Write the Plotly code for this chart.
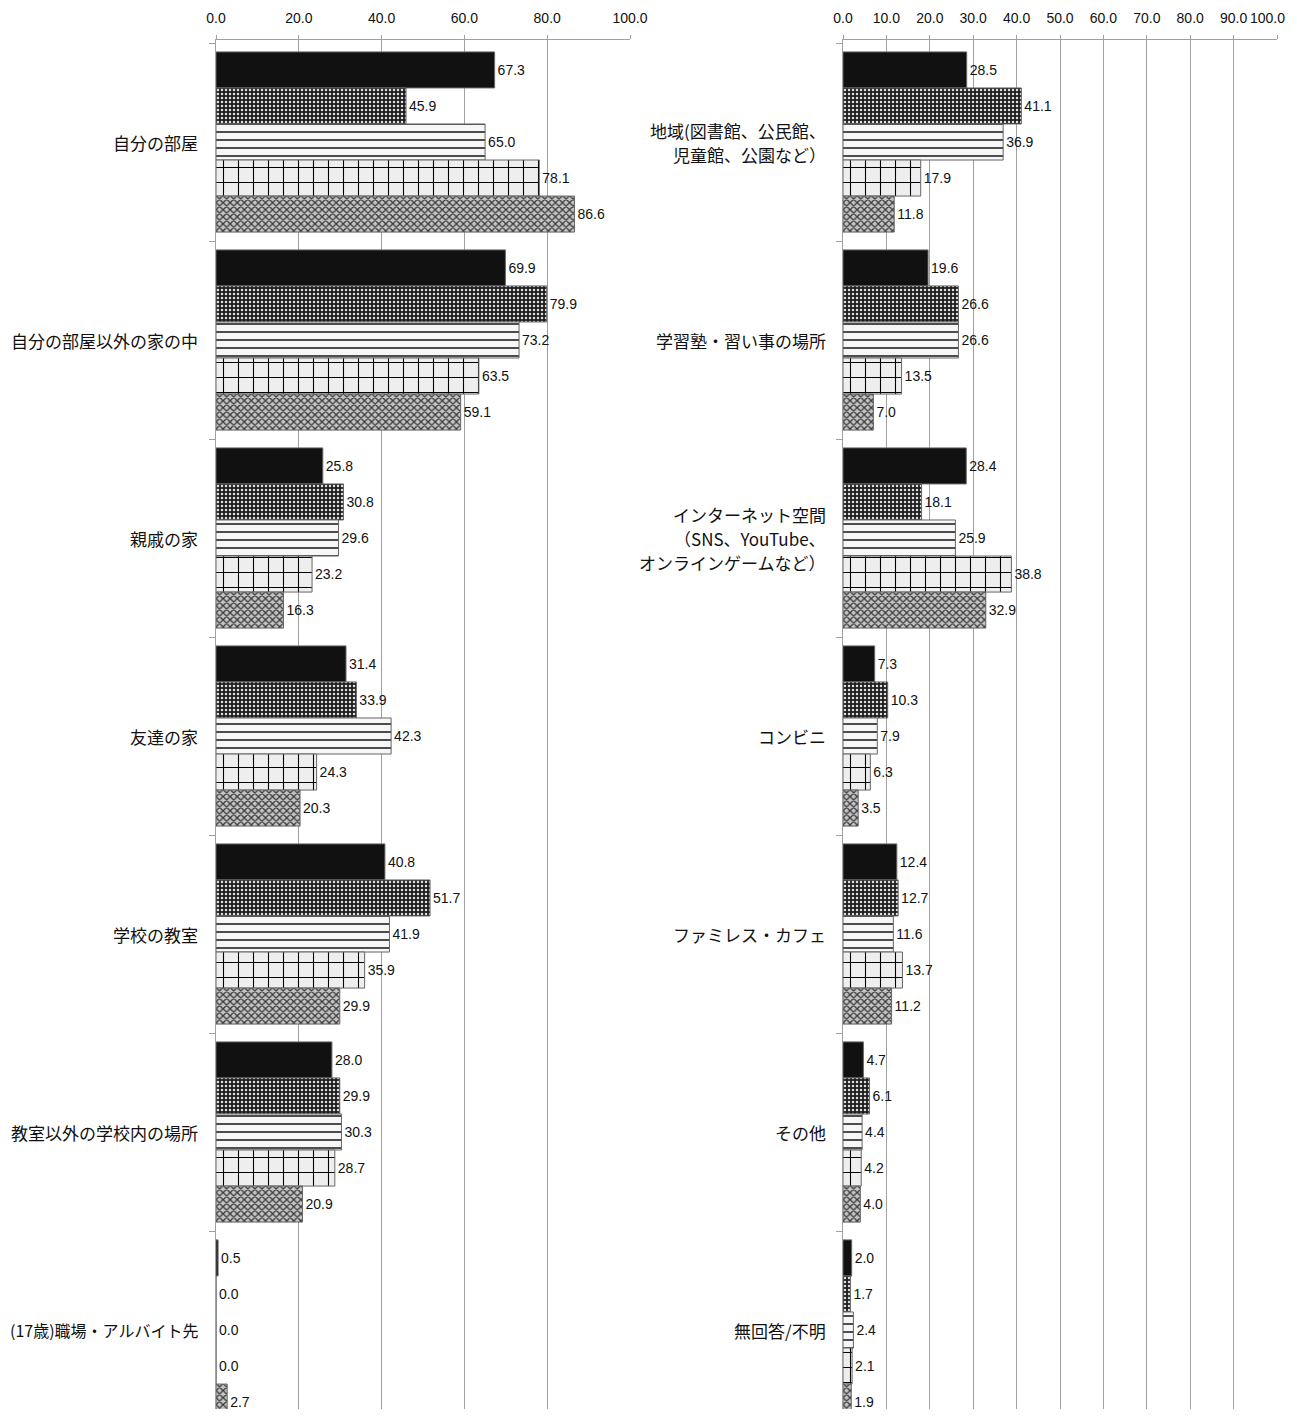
import plotly.graph_objects as go

# ---------------- data ----------------
left_categories = [
    "自分の部屋",
    "自分の部屋以外の家の中",
    "親戚の家",
    "友達の家",
    "学校の教室",
    "教室以外の学校内の場所",
    "(17歳)職場・アルバイト先",
]
left_s1 = [67.3, 69.9, 25.8, 31.4, 40.8, 28.0, 0.5]
left_s2 = [45.9, 79.9, 30.8, 33.9, 51.7, 29.9, 0.0]
left_s3 = [65.0, 73.2, 29.6, 42.3, 41.9, 30.3, 0.0]
left_s4 = [78.1, 63.5, 23.2, 24.3, 35.9, 28.7, 0.0]
left_s5 = [86.6, 59.1, 16.3, 20.3, 29.9, 20.9, 2.7]

right_categories = [
    "地域(図書館、公民館、<br>児童館、公園など）",
    "学習塾・習い事の場所",
    "インターネット空間<br>（SNS、YouTube、<br>オンラインゲームなど）",
    "コンビニ",
    "ファミレス・カフェ",
    "その他",
    "無回答/不明",
]
right_s1 = [28.5, 19.6, 28.4, 7.3, 12.4, 4.7, 2.0]
right_s2 = [41.1, 26.6, 18.1, 10.3, 12.7, 6.1, 1.7]
right_s3 = [36.9, 26.6, 25.9, 7.9, 11.6, 4.4, 2.4]
right_s4 = [17.9, 13.5, 38.8, 6.3, 13.7, 4.2, 2.1]
right_s5 = [11.8, 7.0, 32.9, 3.5, 11.2, 4.0, 1.9]

series_names = ["系列1", "系列2", "系列3", "系列4", "系列5"]
left_ticks = [0, 20, 40, 60, 80, 100]
right_ticks = [0, 10, 20, 30, 40, 50, 60, 70, 80, 90, 100]

# ---------------- styles ----------------
patterns = [
    dict(shape="", bgcolor="#111111", fgcolor="#111111", fillmode="replace"),
    dict(shape=".", bgcolor="#1e1e1e", fgcolor="#e0e0e0", size=4, solidity=0.3, fillmode="replace"),
    dict(shape="-", bgcolor="#f6f6f6", fgcolor="#222222", size=8, solidity=0.2, fillmode="replace"),
    dict(shape="+", bgcolor="#eeeeee", fgcolor="#000000", size=15, solidity=0.14, fillmode="replace"),
    dict(shape="x", bgcolor="#c4c4c4", fgcolor="#3a3a3a", size=5, solidity=0.45, fillmode="replace"),
]
base_colors = ["#111111", "#1e1e1e", "#f6f6f6", "#eeeeee", "#c4c4c4"]

FONT_JP = "Noto Sans CJK JP, Noto Sans, sans-serif"
FONT_NUM = "Arial, Liberation Sans, sans-serif"
OFF = 8                      # browser body margin
W, H = 1297 - OFF, 1425 - 2 * OFF - 8
TOP = 40 - OFF
LINE_H = 24
PLOT_TOP, PLOT_BOTTOM = 40, OFF + H          # page pixels of the plot area
CAT0_Y, CAT_STEP = 142, 198                  # reference category layout (page pixels)
Y_RANGE = [6 + (PLOT_BOTTOM - (CAT0_Y + 6 * CAT_STEP)) / CAT_STEP,
           -(CAT0_Y - PLOT_TOP) / CAT_STEP]

def px(x):
    return (x - OFF) / W

fig = go.Figure()

left_series = [left_s1, left_s2, left_s3, left_s4, left_s5]
right_series = [right_s1, right_s2, right_s3, right_s4, right_s5]

def add_bars(cats, series_list, xa, ya):
    for i, vals in enumerate(series_list):
        fig.add_trace(go.Bar(
            y=cats, x=vals, orientation="h", name=series_names[i],
            marker=dict(color=base_colors[i], line=dict(color="#666666", width=1), pattern=patterns[i]),
            texttemplate="%{x:.1f}", textposition="outside", constraintext="none",
            textfont=dict(size=14, color="#111111", family=FONT_NUM),
            cliponaxis=False, showlegend=False, xaxis=xa, yaxis=ya,
        ))

add_bars(left_categories, left_series, "x", "y")
add_bars(right_categories, right_series, "x2", "y2")

xcommon = dict(
    range=[0, 100], side="top", showgrid=True, gridcolor="#a0a0a0", gridwidth=1,
    zeroline=False, showline=True, linecolor="#a0a0a0", ticks="outside", ticklen=4, tickcolor="#a0a0a0",
    ticklabelstandoff=6, automargin=False, ticklabeloverflow="allow", tickmode="array",
    tickfont=dict(size=14, color="#111111", family=FONT_NUM),
)
ycommon = dict(
    type="category", range=Y_RANGE, autorange=False, showline=True, linecolor="#a0a0a0", ticks="outside",
    tickson="boundaries", ticklen=6, tickcolor="#a0a0a0", showticklabels=False, showgrid=False,
    domain=[0, 1], automargin=False,
)

left_ticktext = [f"{v:.1f}" for v in left_ticks]
# the last right-hand label sits at the page edge; it is drawn as an annotation below
right_ticktext = [f"{v:.1f}" for v in right_ticks[:-1]] + [""]

fig.update_layout(
    width=W, height=H,
    margin=dict(l=0, r=0, t=TOP, b=0, autoexpand=False),
    paper_bgcolor="white", plot_bgcolor="white",
    barmode="group", bargap=0.09, bargroupgap=0,
    xaxis=dict(domain=[px(216), px(630)], tickvals=left_ticks, ticktext=left_ticktext, anchor="y", **xcommon),
    xaxis2=dict(domain=[px(843), px(1277)], tickvals=right_ticks, ticktext=right_ticktext, anchor="y2", **xcommon),
    yaxis=dict(anchor="x", **ycommon),
    yaxis2=dict(anchor="x2", **ycommon),
)

fig.add_annotation(x=right_ticks[-1], xref="x2", y=1, yref="paper", yshift=22, xshift=10,
                   text=f"{right_ticks[-1]:.1f}", showarrow=False, xanchor="right", yanchor="middle",
                   font=dict(size=14, color="#111111", family=FONT_NUM))

def add_labels(cats, ya, xpix):
    for cat in cats:
        lines = cat.split("<br>")
        n = len(lines)
        size = 16 if len(cat) > 12 and n == 1 else 17
        for k, line in enumerate(lines):
            shift = ((n - 1) / 2 - k) * LINE_H
            fig.add_annotation(x=px(xpix), xref="paper", y=cat, yref=ya, yshift=shift, text=line,
                               showarrow=False, xanchor="right", align="center",
                               font=dict(size=size, color="#111111", family=FONT_JP))

add_labels(left_categories, "y", 200)
add_labels(right_categories, "y2", 828)

fig.write_html("out.html")
